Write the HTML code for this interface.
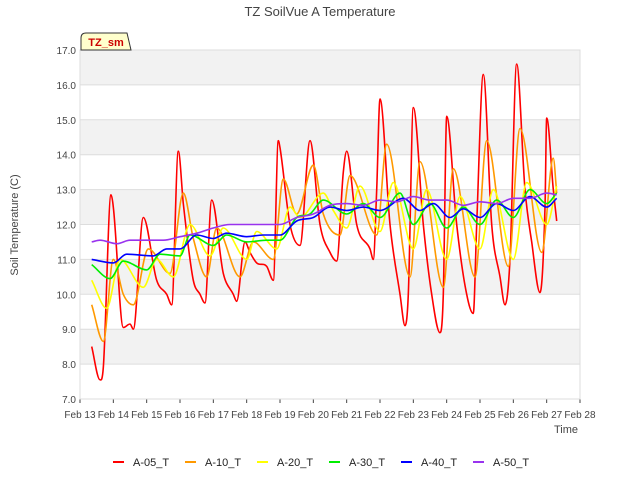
<!DOCTYPE html>
<html><head><meta charset="utf-8"><style>
body{margin:0;background:#fff;font-family:"Liberation Sans",sans-serif}
</style></head><body>
<svg id="c" width="640" height="480" font-family="Liberation Sans, sans-serif">
<text x="320" y="16" text-anchor="middle" font-size="13" fill="#444">TZ SoilVue A Temperature</text>
<g id="grid"></g><g id="series"></g><g id="axes"></g>
<text transform="translate(18,225) rotate(-90)" text-anchor="middle" font-size="11" fill="#444">Soil Temperature (C)</text>
<text x="566" y="433" text-anchor="middle" font-size="11" fill="#444">Time</text>
<g><path d="M81,50 L81,38 Q81,33 86,33 L127,33 L131,50 Z" fill="#ffffcc" stroke="#333"/><text x="106" y="46" text-anchor="middle" font-size="11" font-weight="bold" fill="#cc0000">TZ_sm</text></g>
<g id="legend"></g>
</svg>
<script>
const yTicks=[7,8,9,10,11,12,13,14,15,16,17];
const xTickLabels=["Feb 13","Feb 14","Feb 15","Feb 16","Feb 17","Feb 18","Feb 19","Feb 20","Feb 21","Feb 22","Feb 23","Feb 24","Feb 25","Feb 26","Feb 27","Feb 28"];
const seriesNames=["A-05_T","A-10_T","A-20_T","A-30_T","A-40_T","A-50_T"];
const seriesColors=["#ff0000","#ff9900","#ffff00","#00ee00","#0000ff","#9933ee"];
const t05=[0.35,0.6,0.7,0.93,1.0,1.3,1.5,1.6,1.9,2.3,2.6,2.75,2.95,3.1,3.4,3.6,3.75,3.95,4.3,4.6,4.7,4.95,5.1,5.3,5.6,5.8,5.95,6.0,6.3,6.6,6.9,7.2,7.5,7.7,7.9,8.0,8.3,8.7,8.8,8.9,9.0,9.3,9.6,9.75,9.85,10.0,10.3,10.55,10.8,10.9,11.0,11.3,11.6,11.8,11.9,12.1,12.35,12.6,12.75,12.9,13.1,13.35,13.55,13.8,13.95,14.0,14.2,14.3];
const v05=[8.5,7.55,7.9,12.85,12.5,9.05,9.15,9.0,12.2,10.4,10.0,9.7,14.1,12.6,10.4,10.0,9.75,12.7,10.6,10.0,9.8,11.5,11.2,10.9,10.8,10.4,14.4,14.2,12.0,11.4,14.4,12.0,11.2,10.95,13.5,14.1,12.0,11.3,11.0,13.0,15.6,12.0,10.0,9.1,10.0,15.35,12.0,10.0,8.9,10.0,15.1,12.0,10.0,9.45,12.0,16.3,12.0,10.5,9.7,11.0,16.6,13.0,11.5,10.05,12.5,15.05,13.0,12.1];
const t10=[0.35,0.7,1.0,1.3,1.6,2.05,2.7,3.1,3.4,3.8,4.1,4.8,5.2,5.8,6.1,6.5,7.0,7.3,7.8,8.1,8.9,9.2,9.9,10.2,10.9,11.2,11.85,12.2,12.85,13.2,13.85,14.2,14.3];
const v10=[9.7,8.65,11.0,10.0,9.7,11.3,10.6,12.9,11.6,10.5,11.9,10.5,11.5,11.0,13.3,12.3,13.7,12.3,11.7,13.4,11.7,14.3,10.5,13.8,10.2,13.6,10.5,14.4,10.8,14.75,11.2,13.9,12.9];
const t20=[0.35,0.8,1.2,1.9,2.3,2.8,3.3,3.9,4.3,5.0,5.3,5.9,6.3,6.6,7.3,7.6,8.0,8.4,9.0,9.4,10.0,10.4,11.0,11.4,12.0,12.4,13.0,13.4,14.0,14.3];
const v20=[10.4,9.6,11.0,10.2,11.0,10.5,12.0,11.1,11.9,11.0,11.8,11.3,12.5,12.2,12.9,12.4,11.9,13.1,11.8,13.2,11.3,13.0,11.0,12.8,11.3,13.0,11.0,13.2,12.0,13.1];
const t30=[0.35,0.9,1.3,2.0,2.4,3.0,3.3,4.0,4.4,5.0,5.6,6.0,6.5,6.9,7.3,8.0,8.5,9.0,9.6,10.0,10.5,11.0,11.5,12.0,12.5,13.0,13.5,14.0,14.3];
const v30=[10.85,10.45,10.95,10.7,11.15,11.1,11.7,11.4,11.7,11.5,11.55,11.55,12.2,12.3,12.7,12.3,12.6,12.2,12.9,12.0,12.6,11.9,12.5,12.0,12.7,12.2,13.0,12.6,12.9];
const t40=[0.35,1.0,1.4,2.2,2.6,3.0,3.5,4.0,4.4,5.0,5.5,6.0,6.5,7.0,7.5,8.0,8.5,9.0,9.7,10.2,10.6,11.1,11.5,12.0,12.5,13.0,13.5,14.0,14.3];
const v40=[11.0,10.9,11.15,11.1,11.3,11.3,11.7,11.6,11.75,11.65,11.7,11.7,12.1,12.2,12.5,12.4,12.5,12.4,12.75,12.4,12.6,12.2,12.45,12.2,12.6,12.4,12.8,12.5,12.75];
const t50=[0.35,0.6,1.1,1.5,2.5,3.0,3.5,4.0,4.5,6.0,6.5,7.0,7.5,8.0,8.5,9.0,9.5,10.0,10.5,11.0,11.5,12.0,12.5,13.0,13.5,14.0,14.3];
const v50=[11.5,11.55,11.45,11.55,11.55,11.65,11.75,11.9,12.0,12.0,12.2,12.3,12.55,12.6,12.55,12.7,12.65,12.8,12.7,12.7,12.55,12.65,12.6,12.75,12.75,12.9,12.85];
const times=[t05,t10,t20,t30,t40,t50];
const values=[v05,v10,v20,v30,v40,v50];

const L=80,R=580,T=50,B=399;
const xs=d=>L+d*(R-L)/15;
const ys=v=>B-(v-7)*(B-T)/10;
const NS="http://www.w3.org/2000/svg";
function mk(tag,attrs,parent){const e=document.createElementNS(NS,tag);for(const k in attrs)e.setAttribute(k,attrs[k]);parent.appendChild(e);return e;}
function monoPath(P){
  const n=P.length;const dx=[],m=[],tg=[];
  for(let i=0;i<n-1;i++){dx[i]=P[i+1][0]-P[i][0];m[i]=(P[i+1][1]-P[i][1])/dx[i];}
  tg[0]=m[0];tg[n-1]=m[n-2];
  for(let i=1;i<n-1;i++){tg[i]=(m[i-1]*m[i]<=0)?0:(m[i-1]+m[i])/2;}
  let d='M'+P[0][0].toFixed(1)+','+P[0][1].toFixed(1);
  for(let i=0;i<n-1;i++){const h=dx[i]/3;
    d+=' C'+(P[i][0]+h).toFixed(1)+','+(P[i][1]+tg[i]*h).toFixed(1)+' '+(P[i+1][0]-h).toFixed(1)+','+(P[i+1][1]-tg[i+1]*h).toFixed(1)+' '+P[i+1][0].toFixed(1)+','+P[i+1][1].toFixed(1);}
  return d;
}
const grid=document.getElementById('grid'),axes=document.getElementById('axes'),ser=document.getElementById('series'),leg=document.getElementById('legend');
mk('rect',{x:L,y:T,width:R-L,height:B-T,fill:'#fff'},grid);
for(let i=0;i<yTicks.length-1;i++){
  if(i%2===1){const r=mk('rect',{x:L,y:ys(yTicks[i+1]),width:R-L,height:ys(yTicks[i])-ys(yTicks[i+1]),fill:'#f2f2f2'},grid);
  
  }
}
yTicks.forEach(v=>{
  mk('line',{x1:L,x2:R,y1:ys(v),y2:ys(v),stroke:'#ddd','stroke-width':1},grid);
  const t=mk('text',{x:L-4,y:ys(v)+4,'text-anchor':'end','font-size':10,fill:'#444'},axes);t.textContent=v.toFixed(1);
  
  
});
xTickLabels.forEach((s,i)=>{
  mk('line',{x1:xs(i),x2:xs(i),y1:B,y2:B+4,stroke:'#444'},axes);
  const t=mk('text',{x:xs(i),y:B+19,'text-anchor':'middle','font-size':10,fill:'#444'},axes);t.textContent=s;
  
  
});
mk('rect',{x:L,y:T,width:R-L,height:B-T,fill:'none',stroke:'#ddd'},axes);
seriesNames.forEach((n,i)=>{
  const P=times[i].map((d,j)=>[xs(d),ys(values[i][j])]);
  const p=mk('path',{d:monoPath(P),fill:'none',stroke:seriesColors[i],'stroke-width':1.6,'stroke-linejoin':'round'},ser);
  
  
  const lx=113+i*72;
  const g=mk('g',{},leg);
  
  
  mk('line',{x1:lx,x2:lx+11,y1:462,y2:462,stroke:seriesColors[i],'stroke-width':2},g);
  const t=mk('text',{x:lx+20,y:466,'font-size':11,fill:'#222'},g);t.textContent=n;
});
</script>
</body></html>
